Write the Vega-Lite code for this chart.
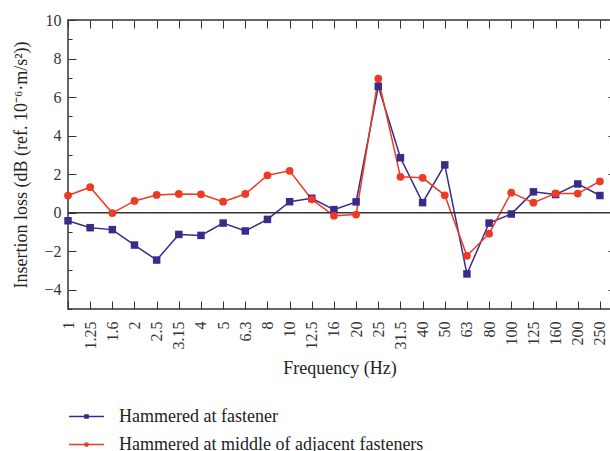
{
  "$schema": "https://vega.github.io/schema/vega-lite/v6.json",
  "width": 543,
  "height": 289,
  "autosize": {"type": "none"},
  "padding": {"left": 68, "top": 20, "right": 0, "bottom": 142},
  "config": {
    "font": "Liberation Serif",
    "view": {"stroke": "#333333", "strokeWidth": 1.5},
    "axis": {"labelFont": "Liberation Serif", "titleFont": "Liberation Serif", "labelColor": "#333333", "titleColor": "#222222", "tickColor": "#333333", "domain": false, "grid": false, "titleFontWeight": "normal"},
    "legend": {"labelFont": "Liberation Serif", "labelFontSize": 18, "labelColor": "#222222", "labelLimit": 500, "padding": 0}
  },
  "datasets": {
    "pts": [
      {"freq": "1", "series": "Hammered at fastener", "loss": -0.42},
      {"freq": "1.25", "series": "Hammered at fastener", "loss": -0.78},
      {"freq": "1.6", "series": "Hammered at fastener", "loss": -0.88},
      {"freq": "2", "series": "Hammered at fastener", "loss": -1.68},
      {"freq": "2.5", "series": "Hammered at fastener", "loss": -2.46},
      {"freq": "3.15", "series": "Hammered at fastener", "loss": -1.13},
      {"freq": "4", "series": "Hammered at fastener", "loss": -1.18},
      {"freq": "5", "series": "Hammered at fastener", "loss": -0.54},
      {"freq": "6.3", "series": "Hammered at fastener", "loss": -0.95},
      {"freq": "8", "series": "Hammered at fastener", "loss": -0.35},
      {"freq": "10", "series": "Hammered at fastener", "loss": 0.57},
      {"freq": "12.5", "series": "Hammered at fastener", "loss": 0.75},
      {"freq": "16", "series": "Hammered at fastener", "loss": 0.16},
      {"freq": "20", "series": "Hammered at fastener", "loss": 0.56},
      {"freq": "25", "series": "Hammered at fastener", "loss": 6.56},
      {"freq": "31.5", "series": "Hammered at fastener", "loss": 2.85},
      {"freq": "40", "series": "Hammered at fastener", "loss": 0.52},
      {"freq": "50", "series": "Hammered at fastener", "loss": 2.48},
      {"freq": "63", "series": "Hammered at fastener", "loss": -3.18},
      {"freq": "80", "series": "Hammered at fastener", "loss": -0.54},
      {"freq": "100", "series": "Hammered at fastener", "loss": -0.07},
      {"freq": "125", "series": "Hammered at fastener", "loss": 1.08},
      {"freq": "160", "series": "Hammered at fastener", "loss": 0.94},
      {"freq": "200", "series": "Hammered at fastener", "loss": 1.49},
      {"freq": "250", "series": "Hammered at fastener", "loss": 0.89},
      {"freq": "1", "series": "Hammered at middle of adjacent fasteners", "loss": 0.89},
      {"freq": "1.25", "series": "Hammered at middle of adjacent fasteners", "loss": 1.32},
      {"freq": "1.6", "series": "Hammered at middle of adjacent fasteners", "loss": -0.02},
      {"freq": "2", "series": "Hammered at middle of adjacent fasteners", "loss": 0.61},
      {"freq": "2.5", "series": "Hammered at middle of adjacent fasteners", "loss": 0.92},
      {"freq": "3.15", "series": "Hammered at middle of adjacent fasteners", "loss": 0.97},
      {"freq": "4", "series": "Hammered at middle of adjacent fasteners", "loss": 0.95},
      {"freq": "5", "series": "Hammered at middle of adjacent fasteners", "loss": 0.57},
      {"freq": "6.3", "series": "Hammered at middle of adjacent fasteners", "loss": 0.97},
      {"freq": "8", "series": "Hammered at middle of adjacent fasteners", "loss": 1.94},
      {"freq": "10", "series": "Hammered at middle of adjacent fasteners", "loss": 2.17},
      {"freq": "12.5", "series": "Hammered at middle of adjacent fasteners", "loss": 0.69},
      {"freq": "16", "series": "Hammered at middle of adjacent fasteners", "loss": -0.16},
      {"freq": "20", "series": "Hammered at middle of adjacent fasteners", "loss": -0.1},
      {"freq": "25", "series": "Hammered at middle of adjacent fasteners", "loss": 6.96},
      {"freq": "31.5", "series": "Hammered at middle of adjacent fasteners", "loss": 1.86},
      {"freq": "40", "series": "Hammered at middle of adjacent fasteners", "loss": 1.81},
      {"freq": "50", "series": "Hammered at middle of adjacent fasteners", "loss": 0.9},
      {"freq": "63", "series": "Hammered at middle of adjacent fasteners", "loss": -2.24},
      {"freq": "80", "series": "Hammered at middle of adjacent fasteners", "loss": -1.09},
      {"freq": "100", "series": "Hammered at middle of adjacent fasteners", "loss": 1.04},
      {"freq": "125", "series": "Hammered at middle of adjacent fasteners", "loss": 0.52},
      {"freq": "160", "series": "Hammered at middle of adjacent fasteners", "loss": 1.0},
      {"freq": "200", "series": "Hammered at middle of adjacent fasteners", "loss": 0.99},
      {"freq": "250", "series": "Hammered at middle of adjacent fasteners", "loss": 1.63}
    ],
    "zero": [{"loss": 0}]
  },
  "data": {"name": "pts"},
  "layer": [
    {
      "transform": [{"filter": "datum.series == 'Hammered at fastener'"}],
      "mark": {"type": "line", "strokeWidth": 1.5, "color": "#3a2a8a"},
      "encoding": {
        "x": {
          "field": "freq", "type": "ordinal", "sort": null,
          "scale": {"type": "point", "padding": 0.25, "align": 0},
          "axis": {"orient": "bottom", "title": "Frequency (Hz)", "labelAngle": -90, "labelAlign": "right", "labelBaseline": "middle", "labelFontSize": 16, "tickSize": -8, "labelPadding": 20, "titleFontSize": 18, "titlePadding": 10}
        },
        "y": {
          "field": "loss", "type": "quantitative",
          "scale": {"domain": [-5, 10], "nice": false, "zero": false},
          "axis": {"orient": "left", "title": "Insertion loss (dB (ref. 10⁻⁶·m/s²))", "values": [-5, -4, -3, -2, -1, 0, 1, 2, 3, 4, 5, 6, 7, 8, 9, 10], "labelExpr": "datum.value % 2 == 0 ? datum.label : ''", "tickSize": {"condition": {"test": "datum.value % 2 == 0", "value": -8}, "value": -4}, "labelFontSize": 16, "labelPadding": 15, "titleFontSize": 18, "titlePadding": 13}
        }
      }
    },
    {
      "transform": [{"filter": "datum.series != 'Hammered at fastener'"}],
      "mark": {"type": "line", "strokeWidth": 1.5, "color": "#ee3a24"},
      "encoding": {
        "x": {"field": "freq", "type": "ordinal", "sort": null, "axis": null},
        "y": {"field": "loss", "type": "quantitative", "axis": null}
      }
    },
    {
      "data": {"name": "zero"},
      "mark": {"type": "rule", "color": "#333333", "strokeWidth": 1.5},
      "encoding": {"y": {"field": "loss", "type": "quantitative", "axis": null}}
    },
    {
      "transform": [{"filter": "datum.series == 'Hammered at fastener'"}],
      "mark": {"type": "point", "shape": "square", "filled": true, "size": 56, "opacity": 1, "color": "#3a2a8a"},
      "encoding": {
        "x": {"field": "freq", "type": "ordinal", "sort": null, "axis": null},
        "y": {"field": "loss", "type": "quantitative", "axis": null}
      }
    },
    {
      "transform": [{"filter": "datum.series != 'Hammered at fastener'"}],
      "mark": {"type": "point", "shape": "circle", "filled": true, "size": 60, "opacity": 1, "color": "#ee3a24"},
      "encoding": {
        "x": {"field": "freq", "type": "ordinal", "sort": null, "axis": null},
        "y": {"field": "loss", "type": "quantitative", "axis": null}
      }
    },
    {
      "mark": {"type": "point", "filled": true, "opacity": 0},
      "encoding": {
        "x": {"field": "freq", "type": "ordinal", "sort": null, "axis": null},
        "y": {"field": "loss", "type": "quantitative", "axis": null},
        "fill": {"field": "series", "type": "nominal", "scale": {"domain": ["Hammered at fastener", "Hammered at middle of adjacent fasteners"], "range": ["#3a2a8a", "#ee3a24"]}, "legend": {"title": null, "orient": "none", "legendX": 0, "legendY": 378, "direction": "vertical", "symbolSize": 1225, "symbolOpacity": 1, "symbolStrokeWidth": 1.5, "labelOffset": 14, "rowPadding": -8}},
        "stroke": {"field": "series", "type": "nominal", "scale": {"domain": ["Hammered at fastener", "Hammered at middle of adjacent fasteners"], "range": ["#3a2a8a", "#ee3a24"]}, "legend": {"title": null, "orient": "none", "legendX": 0, "legendY": 378, "direction": "vertical", "symbolSize": 1225, "symbolOpacity": 1, "symbolStrokeWidth": 1.5, "labelOffset": 14, "rowPadding": -8}},
        "shape": {"field": "series", "type": "nominal", "scale": {"domain": ["Hammered at fastener", "Hammered at middle of adjacent fasteners"], "range": ["M-1,0H1M-0.09,-0.09H0.09V0.09H-0.09Z", "M-1,0H1M-0.09,0A0.09,0.09 0 1,0 0.09,0A0.09,0.09 0 1,0 -0.09,0Z"]}, "legend": {"title": null, "orient": "none", "legendX": 0, "legendY": 378, "direction": "vertical", "symbolSize": 1225, "symbolOpacity": 1, "symbolStrokeWidth": 1.5, "labelOffset": 14, "rowPadding": -8}}
      }
    },
    {
      "mark": {"type": "point", "opacity": 0},
      "encoding": {
        "x": {"field": "freq", "type": "ordinal", "sort": null, "axis": {"orient": "top", "labels": false, "title": null, "tickSize": -8}},
        "y": {"field": "loss", "type": "quantitative", "axis": {"orient": "right", "labels": false, "title": null, "values": [-4, -2, 2, 4, 6, 8], "tickSize": -3}}
      }
    }
  ],
  "resolve": {"axis": {"x": "independent", "y": "independent"}}
}
